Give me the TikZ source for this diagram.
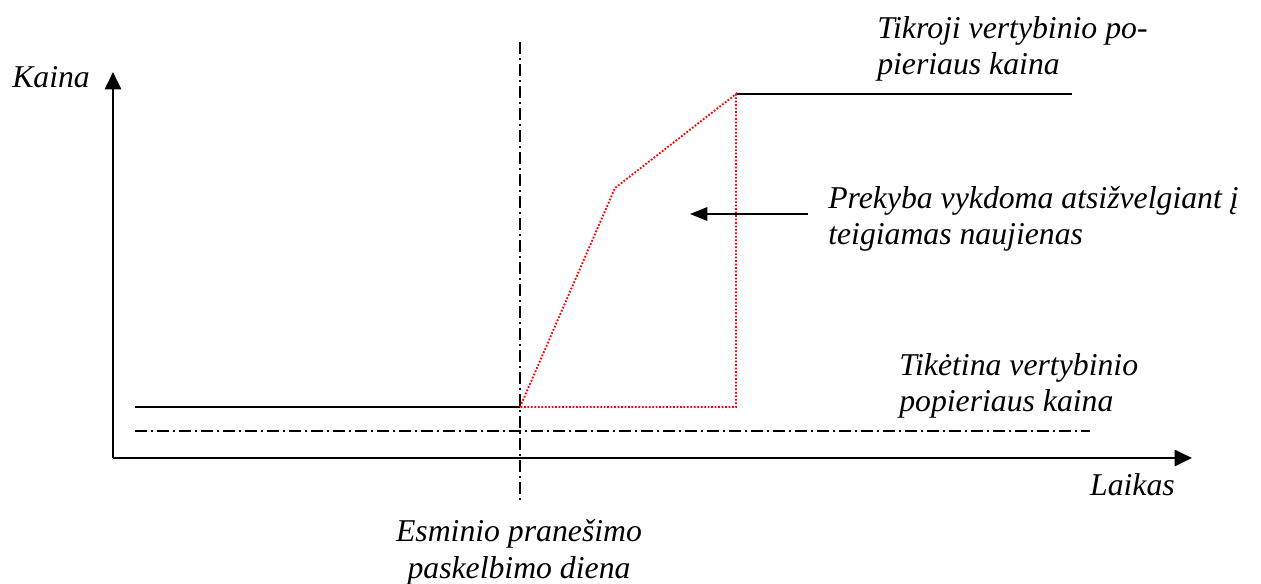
\documentclass[tikz,border=0pt]{standalone}
\usepackage{fontspec}
\setmainfont{Liberation Serif}
\usetikzlibrary{arrows.meta}
\begin{document}
\begin{tikzpicture}[x=0.75pt,y=-0.75pt,
  lbl/.style={font=\fontsize{23.8}{27.6}\selectfont\itshape, inner sep=0pt, align=left},
  lblc/.style={lbl, align=center},
  axis/.style={line width=2.1pt, -{Triangle[length=13pt,width=12pt]}},
  solidline/.style={line width=1.6pt},
  dashdot/.style={line width=1.5pt, dash pattern=on 9pt off 3pt on 1.5pt off 3pt},
  reddot/.style={red, line width=1.4pt, dash pattern=on 1.3pt off 1.3pt},
  pointer/.style={line width=1.6pt, -{Triangle[length=13pt,width=10pt]}}]
\useasboundingbox (0,0) rectangle (1261,584);
% coordinates
\coordinate (O) at (113,458);
\coordinate (Ytop) at (113,72);
\coordinate (Xend) at (1192,458);
\coordinate (Vtop) at (520,42);
\coordinate (Vbot) at (520,500);
\coordinate (L0) at (135,407);
\coordinate (L1) at (520,407);
\coordinate (K) at (615,188);
\coordinate (H0) at (736,94);
\coordinate (H1) at (1072,94);
\coordinate (R1) at (736,407);
\coordinate (D0) at (135,431);
\coordinate (D1) at (1090,431);
\coordinate (A0) at (808,214);
\coordinate (A1) at (690,214);
% axes
\draw[axis] (O) -- (Ytop);
\draw[axis] (O) -- (Xend);
% dash-dot lines
\draw[dashdot] (Vtop) -- (Vbot);
\draw[dashdot] (D0) -- (D1);
% price lines
\draw[solidline] (L0) -- (L1);
\draw[solidline] (H0) -- (H1);
\draw[reddot] (L1) -- (K) -- (H0) -- (R1) -- cycle;
% pointer arrow
\draw[pointer] (A0) -- (A1);
% labels (base anchor = baseline of the last line)
\node[lbl, anchor=base west] (kaina) at (12,88) {Kaina};
\node[lbl, anchor=base east] (laikas) at (1175,496) {Laikas};
\node[lbl, anchor=base west] (tikroji) at (877,75) {Tikroji vertybinio po-\\pieriaus kaina};
\node[lbl, anchor=base west] (prekyba) at (828,245) {Prekyba vykdoma atsižvelgiant į\\teigiamas naujienas};
\node[lbl, anchor=base west] (tiketina) at (899,412) {Tikėtina vertybinio\\popieriaus kaina};
\node[lblc, anchor=base] (esminio) at (519,578) {Esminio pranešimo\\paskelbimo diena};
\end{tikzpicture}
\end{document}
